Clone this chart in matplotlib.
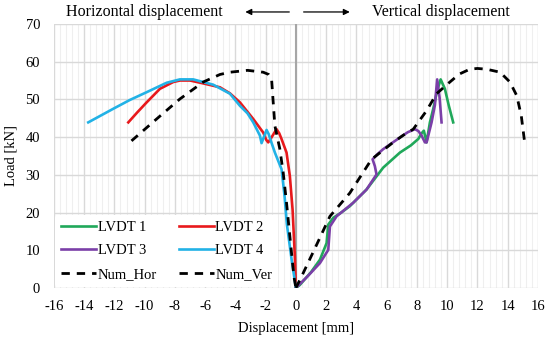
import matplotlib.pyplot as plt
from matplotlib.ticker import MultipleLocator

# ---- data ----
lvdt1_x = [0, 0.26, 1.0, 1.59, 2.03, 2.14, 2.47, 3.0, 3.57, 4.67, 5.77, 6.88, 7.6, 8.09, 8.31, 8.46,
           8.64, 8.86, 9.08, 9.35, 9.57, 9.85, 10.1, 10.4]
lvdt1_y = [0, 0.8, 4.2, 7.5, 11.9, 16.8, 18.6, 20.0, 21.7, 26.1, 31.9, 35.9, 37.8, 39.5, 41.0, 41.7,
           38.6, 43.9, 47.5, 52.5, 55.3, 52.8, 48.5, 43.9]

lvdt2_x = [-11.08, -10.5, -9.87, -8.99, -8.11, -7.67, -7.0, -6.2, -5.02, -4.36, -3.7, -2.82, -2.16,
           -1.95, -1.83, -1.6, -1.28, -1.1, -0.95, -0.62, -0.4, -0.22, -0.07, 0]
lvdt2_y = [43.9, 46.5, 49.2, 52.8, 54.6, 55, 55, 54.3, 53.2, 51.6, 49.2, 44.8, 41.2,
           39.2, 38.6, 40.0, 42.1, 41.0, 39.5, 35.9, 29.7, 20.8, 8.3, 0]

lvdt3_x = [0, 0.8, 1.59, 2.14, 2.25, 2.69, 3.79, 4.67, 5.33, 5.22, 5.07, 5.4, 5.77, 6.88, 7.4, 7.87,
           8.1, 8.31, 8.53, 8.64, 8.97, 9.19, 9.34, 9.5, 9.63]
lvdt3_y = [0, 3.2, 6.6, 10.1, 16.3, 19.0, 22.6, 26.1, 30.1, 32.3, 34.1, 35.5, 36.8, 39.9, 41.3, 42.1,
           41.6, 40.4, 38.6, 38.6, 43.9, 48.5, 55.3, 50.5, 43.9]

lvdt4_x = [-13.73, -12.08, -11.0, -9.87, -8.55, -7.67, -6.79, -5.47, -4.36, -3.7, -3.2, -2.82,
           -2.38, -2.27, -2.1, -1.94, -1.8, -1.68, -1.39, -0.95, -0.75, -0.6, -0.3, 0]
lvdt4_y = [43.9, 47.5, 49.8, 51.9, 54.4, 55.3, 55.3, 53.9, 51.5, 48.3, 46.3, 43.9,
           40.4, 38.4, 40.2, 41.9, 40.8, 39.3, 35.9, 31.5, 24.4, 17.0, 8.0, 0]

num_hor_x = [-10.87, -9.21, -7.67, -6.13, -5.02, -4.36, -3.2, -2.16, -1.8, -1.61, -1.5, -1.39, -1.06,
             -0.84, -0.62, -0.4, -0.13, 0]
num_hor_y = [39, 44.8, 50.1, 54.6, 56.6, 57.2, 57.7, 57.2, 56.6, 55.5, 49.2, 43, 36.8,
             30.6, 22.6, 13.7, 3, 0]

num_ver_x = [0, 0.37, 1.2, 2.25, 3.57, 5.0, 6.43, 7.1, 7.76, 8.64, 9.3, 10.18, 10.8, 11.5, 12.0, 12.6,
             13.5, 14.15, 14.6, 14.9, 15.14]
num_ver_y = [0, 3, 10, 19, 25.2, 34.1, 38.6, 40.5, 42.1, 47, 51.5, 54.6, 56.7, 58, 58.2, 58,
             57.2, 54.6, 51, 45.7, 38.1]

x_ticks_min, x_ticks_max = -16, 16
y_max = 70

# ---- plot ----
plt.rcParams['font.family'] = ['Liberation Serif', 'DejaVu Serif']
plt.rcParams['axes.unicode_minus'] = False
fig = plt.figure(figsize=(5.5, 3.42), dpi=100)
ax = fig.add_axes([0.098, 0.158, 0.88, 0.772])

dash = (0, (3, 2.5))
l1, = ax.plot(lvdt1_x, lvdt1_y, color='#20A85A', lw=1.9, label='LVDT 1')
l2, = ax.plot(lvdt2_x, lvdt2_y, color='#E8191C', lw=1.9, label='LVDT 2')
l3, = ax.plot(lvdt3_x, lvdt3_y, color='#7B3FA8', lw=1.9, label='LVDT 3')
l4, = ax.plot(lvdt4_x, lvdt4_y, color='#22B2E6', lw=1.9, label='LVDT 4')
lh, = ax.plot(num_hor_x, num_hor_y, color='black', lw=2, ls=dash, label='Num_Hor')
lv, = ax.plot(num_ver_x, num_ver_y, color='black', lw=2, ls=dash, label='Num_Ver')

ax.axvline(0, color='#A6A6A6', lw=1.5, zorder=1)

ax.set_xlim(x_ticks_min, x_ticks_max)
ax.set_ylim(0, y_max)
ax.xaxis.set_major_locator(MultipleLocator(2))
ax.xaxis.set_minor_locator(MultipleLocator(0.4))
ax.yaxis.set_major_locator(MultipleLocator(10))
ax.grid(True, which='major', color='#D9D9D9', lw=1.0, zorder=0)
ax.grid(True, which='minor', axis='x', color='#EFEFEF', lw=0.8, zorder=0)
ax.set_axisbelow(True)
for s in ax.spines.values():
    s.set_visible(False)
ax.tick_params(which='both', length=0, labelsize=10.5)
ax.tick_params(axis='x', pad=9)
ax.tick_params(axis='y', pad=10)

ax.set_xlabel('Displacement [mm]', fontsize=10.5, labelpad=6)
ax.set_ylabel('Load [kN]', fontsize=10.5, labelpad=6)

# row-wise order in a 2-column legend
handles = [l1, l3, lh, l2, l4, lv]
ax.legend(handles, [h.get_label() for h in handles], loc='lower left', ncol=2, fontsize=10.5,
          frameon=True, facecolor='white', edgecolor='none', framealpha=1,
          handlelength=2.4, handletextpad=0.1, columnspacing=1.5,
          borderaxespad=0.1, labelspacing=0.7, borderpad=0.4)

# header with arrows
fig.text(0.262, 0.965, 'Horizontal displacement', ha='center', va='center', fontsize=11.5)
fig.text(0.802, 0.965, 'Vertical displacement', ha='center', va='center', fontsize=11.5)
ax.annotate('', xy=(0.441, 0.965), xytext=(0.531, 0.965), xycoords='figure fraction',
            arrowprops=dict(arrowstyle='-|>', color='black', lw=0.9, mutation_scale=9))
ax.annotate('', xy=(0.641, 0.965), xytext=(0.547, 0.965), xycoords='figure fraction',
            arrowprops=dict(arrowstyle='-|>', color='black', lw=0.9, mutation_scale=9))

fig.savefig('out.png', dpi=100)
